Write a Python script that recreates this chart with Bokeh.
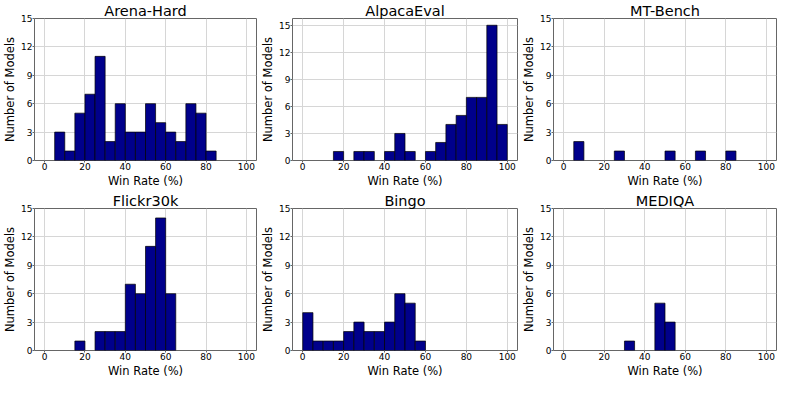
from bokeh.plotting import figure
from bokeh.layouts import gridplot
from bokeh.models import FixedTicker, Range1d
from bokeh.embed import file_html
from bokeh.resources import INLINE

# bins of width 5 over 0-100 (left edges)
bin_edges = list(range(0, 101, 5))

titles = ["Arena-Hard", "AlpacaEval", "MT-Bench", "Flickr30k", "Bingo", "MEDIQA"]

arena_hard = [0, 3, 1, 5, 7, 11, 2, 6, 3, 3, 6, 4, 3, 2, 6, 5, 1, 0, 0, 0]
alpaca_eval = [0, 0, 0, 1, 0, 1, 1, 0, 1, 3, 1, 0, 1, 2, 4, 5, 7, 7, 15, 4]
mt_bench = [0, 2, 0, 0, 0, 1, 0, 0, 0, 0, 1, 0, 0, 1, 0, 0, 1, 0, 0, 0]
flickr30k = [0, 0, 0, 1, 0, 2, 2, 2, 7, 6, 11, 14, 6, 0, 0, 0, 0, 0, 0, 0]
bingo = [4, 1, 1, 1, 2, 3, 2, 2, 3, 6, 5, 1, 0, 0, 0, 0, 0, 0, 0, 0]
mediqa = [0, 0, 0, 0, 0, 0, 1, 0, 0, 5, 3, 0, 0, 0, 0, 0, 0, 0, 0, 0]

counts = [arena_hard, alpaca_eval, mt_bench, flickr30k, bingo, mediqa]
y_max = [15, 15.75, 15, 15, 15, 15]

x_ticks = [0, 20, 40, 60, 80, 100]
y_ticks = [0, 3, 6, 9, 12, 15]

FONT = "DejaVu Sans"
widths = [258, 261, 258]
lefts = [26, 31, 31]
rights = [2, 2, 1]

figs = []
for i, (t, c) in enumerate(zip(titles, counts)):
    col = i % 3
    p = figure(width=widths[col], height=190, output_backend="svg",
               toolbar_location=None, title=t,
               x_range=Range1d(-5, 105), y_range=Range1d(0, y_max[i]),
               min_border_left=lefts[col], min_border_right=rights[col],
               min_border_top=17, min_border_bottom=24)
    p.title.align = "center"
    p.title.text_font = FONT
    p.title.text_font_size = "14.5px"
    p.title.text_font_style = "normal"
    p.title.text_color = "black"
    p.title.standoff = 0
    p.title.offset = 0

    lefts_e = [bin_edges[k] for k in range(20) if c[k] > 0]
    rights_e = [bin_edges[k + 1] for k in range(20) if c[k] > 0]
    tops = [c[k] for k in range(20) if c[k] > 0]
    p.quad(left=lefts_e, right=rights_e, bottom=0, top=tops,
           fill_color="#00008B", line_color="black", line_width=0.7)

    p.xaxis.ticker = FixedTicker(ticks=x_ticks)
    p.yaxis.ticker = FixedTicker(ticks=y_ticks)
    p.xaxis.minor_tick_line_color = None
    p.yaxis.minor_tick_line_color = None
    for ax in (p.xaxis, p.yaxis):
        ax.major_label_text_font = FONT
        ax.major_label_text_font_size = "9px"
        ax.major_label_text_color = "black"
        ax.axis_label_text_font = FONT
        ax.axis_label_text_font_size = "11.5px"
        ax.axis_label_text_font_style = "normal"
        ax.axis_label_text_color = "black"
        ax.axis_line_color = None
        ax.major_tick_line_color = "#666666"
        ax.major_tick_out = 2
        ax.major_tick_in = 0
        ax.major_label_standoff = 0
        ax.axis_label_standoff = 1
    p.xaxis.axis_label = "Win Rate (%)"
    p.yaxis.axis_label = "Number of Models"
    p.xgrid.ticker = FixedTicker(ticks=x_ticks)
    p.ygrid.ticker = FixedTicker(ticks=y_ticks)
    p.grid.grid_line_color = "#d6d6d6"
    p.grid.grid_line_width = 1
    p.outline_line_color = "#666666"
    p.outline_line_width = 1
    p.background_fill_color = "white"
    figs.append(p)

grid = gridplot([figs[0:3], figs[3:6]], toolbar_location=None)

open("out.html", "w").write(file_html(grid, INLINE))
